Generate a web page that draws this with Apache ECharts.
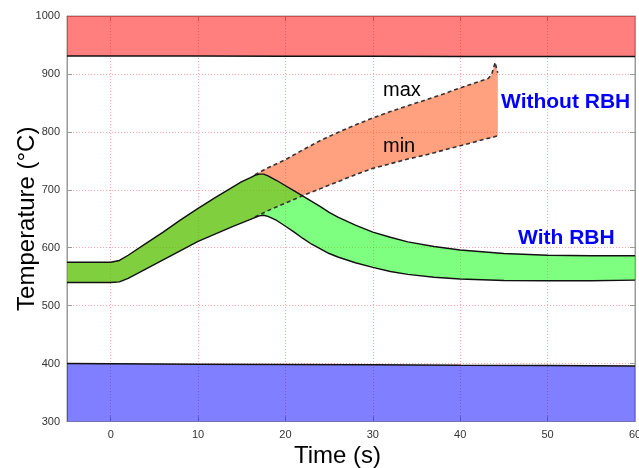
<!DOCTYPE html>
<html>
<head>
<meta charset="utf-8">
<script src="https://cdn.jsdelivr.net/npm/echarts@6/dist/echarts.min.js"></script>
<style>html,body{margin:0;padding:0;background:#fff}#c{width:639px;height:468px}</style>
</head>
<body>
<div id="c"></div>
<script>
// ---- data ----
// With RBH (green band)
var timeGreen  = [-5, 0, 1, 2, 4, 6, 8, 10, 12, 14, 15, 16, 16.5, 17, 17.5, 18, 19, 20, 21, 22, 23, 24, 25, 26, 28, 30, 32, 34, 37, 40, 45, 50, 55, 60];
var greenUpper = [575, 575, 578, 587, 607, 627, 648, 668, 687, 705, 714, 721, 725, 727, 727, 724, 716, 707, 698, 689, 680, 671, 661, 653, 639, 627, 618, 610, 602, 596, 590, 587, 586, 586];
var greenLower = [540, 540, 541, 547, 563, 579, 595, 611, 624, 637, 643, 649, 652, 655, 656, 654, 647, 637, 627, 616, 606, 598, 590, 584, 574, 566, 559, 554, 549, 546, 543.5, 543, 543, 544];
// Without RBH (orange band)
var timeOrange = [-5, 0, 1, 2, 4, 6, 8, 10, 12, 14, 15, 16, 16.5, 18, 20, 22, 24, 26, 28, 30, 32, 34, 36, 38, 40, 42, 43.2, 43.6, 44, 44.2, 44.3];
var orangeMax  = [575, 575, 578, 587, 607, 627, 648, 668, 687, 705, 714, 721, 726, 738, 752, 769, 785, 799, 812, 824, 835, 845, 855, 865, 876, 886, 892, 899, 920, 906, 902];
var orangeMin  = [540, 540, 541, 547, 563, 579, 595, 611, 624, 637, 643, 649, 653, 664, 677, 690, 702, 714, 726, 737, 745, 753, 760, 768, 776, 784, 789, 790, 792, 793, 793];
var dashStartTime = 16.5;
// Limit bands
var timeLimit  = [-5, 10, 20, 30, 40, 50, 60];
var upperLimit = [931, 931, 930.5, 930.5, 930, 930, 930];
var lowerLimit = [400, 399, 398.5, 398, 397, 396.5, 396];
// axes
var xMin = -5, xMax = 60, yMin = 300, yMax = 1000, yStep = 100;

// ---- helpers ----
function pairs(t, v) { return t.map(function (x, i) { return [x, v[i]]; }); }
function bandSeries(t, up, lo, fill) {
  return {
    type: 'custom',
    silent: true,
    data: pairs(t, up),
    renderItem: function (params, api) {
      if (params.dataIndex !== 0) return null;
      var pts = [];
      for (var i = 0; i < t.length; i++) pts.push(api.coord([t[i], up[i]]));
      for (var j = t.length - 1; j >= 0; j--) pts.push(api.coord([t[j], lo[j]]));
      return { type: 'polygon', shape: { points: pts }, style: { fill: fill, stroke: null } };
    }
  };
}
function lineSeries(t, v, style) {
  return {
    type: 'line', data: pairs(t, v), showSymbol: false, silent: true,
    lineStyle: style
  };
}
var dashIdx = timeOrange.indexOf(dashStartTime);
var font = 'Liberation Sans, Arial, sans-serif';
function plain(v) { return String(v); }

var chart = echarts.init(document.getElementById('c'), null, { renderer: 'canvas' });
var gridLine = { show: true, lineStyle: { color: 'rgba(255,60,60,0.45)', type: [1, 2], width: 1 } };
var edge = { show: true, onZero: false, lineStyle: { color: '#9a9a9a' } };
var tick = { show: true, inside: true, length: 5, lineStyle: { color: '#9a9a9a' } };
chart.setOption({
  animation: false,
  grid: { left: 67, right: 4, top: 16, bottom: 46.5, show: true, borderColor: '#9a9a9a', borderWidth: 1,
          containLabel: false, outerBoundsMode: 'none' },
  xAxis: [{
    type: 'value', min: xMin, max: xMax, splitNumber: 6,
    name: 'Time (s)', nameLocation: 'middle', nameGap: 23, nameMoveOverlap: false,
    nameTextStyle: { fontSize: 24, color: '#000', fontFamily: font, padding: [0, 27, 0, 0] },
    axisLine: edge, axisTick: tick,
    axisLabel: { showMinLabel: false, color: '#333', fontSize: 11, fontFamily: font, margin: 8, formatter: plain },
    splitLine: gridLine
  }, {
    type: 'value', min: xMin, max: xMax, splitNumber: 6, position: 'top',
    axisLine: edge, axisTick: tick,
    axisLabel: { show: false }, splitLine: { show: false }
  }],
  yAxis: [{
    type: 'value', min: yMin, max: yMax, interval: yStep,
    name: 'Temperature (°C)', nameLocation: 'middle', nameGap: 28, nameMoveOverlap: false,
    nameTextStyle: { fontSize: 24, color: '#000', fontFamily: font, padding: [0, 0, 0, 0] },
    axisLine: edge, axisTick: tick,
    axisLabel: { color: '#333', fontSize: 11, fontFamily: font, margin: 7, formatter: plain },
    splitLine: gridLine
  }, {
    type: 'value', min: yMin, max: yMax, interval: yStep, position: 'right',
    axisLine: edge, axisTick: tick,
    axisLabel: { show: false }, splitLine: { show: false }
  }],
  series: [
    // limit bands
    Object.assign(lineSeries(timeLimit, upperLimit, { color: '#111', width: 1.5 }),
      { areaStyle: { origin: 'end', color: 'rgba(255,0,0,0.5)', opacity: 1 } }),
    Object.assign(lineSeries(timeLimit, lowerLimit, { color: '#111', width: 1.5 }),
      { areaStyle: { origin: 'start', color: 'rgba(0,0,255,0.5)', opacity: 1 } }),
    // bands
    bandSeries(timeOrange, orangeMax, orangeMin, 'rgba(255,65,0,0.5)'),
    bandSeries(timeGreen, greenUpper, greenLower, 'rgba(0,255,0,0.5)'),
    // outlines
    lineSeries(timeOrange.slice(dashIdx), orangeMax.slice(dashIdx), { color: '#333', width: 1.6, type: [4, 3] }),
    lineSeries(timeOrange.slice(dashIdx), orangeMin.slice(dashIdx), { color: '#333', width: 1.6, type: [4, 3] }),
    lineSeries(timeGreen, greenUpper, { color: '#111', width: 1.4 }),
    lineSeries(timeGreen, greenLower, { color: '#111', width: 1.4 })
  ],
  graphic: [
    { type: 'text', z: 100, left: 383, top: 80, style: { text: 'max', fontSize: 20, fontFamily: font, fill: '#000' } },
    { type: 'text', z: 100, left: 383, top: 136, style: { text: 'min', fontSize: 20, fontFamily: font, fill: '#000' } },
    { type: 'text', z: 100, left: 501, top: 92, style: { text: 'Without RBH', fontSize: 21, fontWeight: 'bold', fontFamily: font, fill: '#0000ff' } },
    { type: 'text', z: 100, left: 518, top: 228, style: { text: 'With RBH', fontSize: 21, fontWeight: 'bold', fontFamily: font, fill: '#0000ff' } }
  ]
});
</script>
</body>
</html>
